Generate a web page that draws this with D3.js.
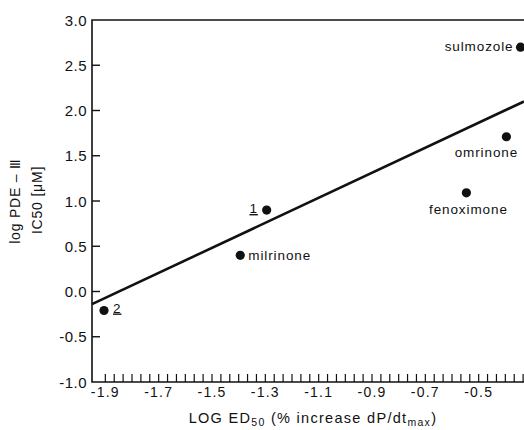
<!DOCTYPE html>
<html>
<head>
<meta charset="utf-8">
<script src="https://cdn.jsdelivr.net/npm/d3@7"></script>
<style>
  html, body { margin: 0; padding: 0; background: #fff; }
  svg text { font-family: "Liberation Sans", Arial, sans-serif; fill: #111; }
</style>
</head>
<body>
<svg id="chart" width="524" height="430"></svg>
<script>
// values
const compounds = ["2", "milrinone", "1", "fenoximone", "omrinone", "sulmozole"];
const logED50 = [-1.905, -1.394, -1.295, -0.546, -0.396, -0.343];
const logIC50 = [-0.21, 0.40, 0.90, 1.09, 1.71, 2.70];
const fitX = [-1.95, -0.33];
const fitY = [-0.14, 2.10];
const xTickValues = [-1.9, -1.7, -1.5, -1.3, -1.1, -0.9, -0.7, -0.5];
const yTickValues = [-1.0, -0.5, 0.0, 0.5, 1.0, 1.5, 2.0, 2.5, 3.0];

// label placement relative to each dot (layout only)
const labelPos = {
  "2":          { dx: 9,   dy: 2,  anchor: "start",  under: true },
  "milrinone":  { dx: 8,   dy: 5,  anchor: "start" },
  "1":          { dx: -13, dy: 3,  anchor: "middle", under: true },
  "fenoximone": { dx: 2,   dy: 21, anchor: "middle" },
  "omrinone":   { dx: -20, dy: 20, anchor: "middle" },
  "sulmozole":  { dx: -7,  dy: 4,  anchor: "end" }
};

const svg = d3.select("#chart");
const plotL = 92, plotT = 20, plotB = 382, plotR = 524;

const x = d3.scaleLinear().domain([-1.95, -0.33]).range([plotL, plotR]);
const y = d3.scaleLinear().domain([-1, 3]).range([plotB, plotT]);
const fmt = d => d3.format(".1f")(d).replace("\u2212", "-");

// frame: left axis, bottom axis, top border
svg.append("path")
  .attr("d", `M${plotR},${plotT}H${plotL}V${plotB}H${plotR}`)
  .attr("fill", "none").attr("stroke", "#111").attr("stroke-width", 1.6);

// y axis ticks (inside) and labels
const yInner = yTickValues.filter(v => v > -1 && v < 3);
svg.selectAll(".ytick").data(yInner).enter().append("line")
  .attr("x1", plotL).attr("x2", plotL + 8)
  .attr("y1", d => y(d)).attr("y2", d => y(d))
  .attr("stroke", "#111").attr("stroke-width", 1.4);
svg.selectAll(".ylab").data(yTickValues).enter().append("text")
  .attr("x", plotL - 5).attr("y", d => y(d) + 5.5)
  .attr("text-anchor", "end")
  .style("font-size", "15px").style("letter-spacing", "0.5px")
  .text(fmt);

// x axis: minor ticks every 1/6 of a labelled step
const minor = d3.range(-1.9, -0.33, 0.2 / 6);
svg.selectAll(".xtick").data(minor).enter().append("line")
  .attr("x1", d => x(d)).attr("x2", d => x(d))
  .attr("y1", plotB).attr("y2", plotB - 8)
  .attr("stroke", "#111").attr("stroke-width", 1.2);
svg.selectAll(".xlab").data(xTickValues).enter().append("text")
  .attr("x", d => x(d)).attr("y", plotB + 15)
  .attr("text-anchor", "middle")
  .style("font-size", "14px").style("letter-spacing", "1.2px")
  .text(fmt);

// x axis title with subscripts
const xt = svg.append("text")
  .attr("x", 313).attr("y", 423)
  .attr("text-anchor", "middle")
  .style("font-size", "14.5px").style("letter-spacing", "1.3px");
xt.append("tspan").text("LOG ED");
xt.append("tspan").attr("dy", 3).style("font-size", "10.5px").text("50");
xt.append("tspan").attr("dy", -3).text(" (% increase  dP/dt");
xt.append("tspan").attr("dy", 3).style("font-size", "10.5px").text("max");
xt.append("tspan").attr("dy", -3).text(")");

// y axis title, two rotated lines
svg.append("text")
  .attr("transform", "translate(20,201) rotate(-90)")
  .attr("text-anchor", "middle")
  .style("font-size", "14px").style("letter-spacing", "0.8px")
  .text("log PDE \u2013 \u2162");
svg.append("text")
  .attr("transform", "translate(42,200) rotate(-90)")
  .attr("text-anchor", "middle")
  .style("font-size", "14px").style("letter-spacing", "0.8px")
  .text("IC50 [\u03bcM]");

// regression line
svg.append("line")
  .attr("x1", x(fitX[0])).attr("y1", y(fitY[0]))
  .attr("x2", x(fitX[1])).attr("y2", y(fitY[1]))
  .attr("stroke", "#111").attr("stroke-width", 2.6);

// points and labels
const pts = compounds.map((c, i) => ({ name: c, ed: logED50[i], ic: logIC50[i] }));
svg.selectAll(".dot").data(pts).enter().append("circle")
  .attr("cx", d => x(d.ed)).attr("cy", d => y(d.ic))
  .attr("r", 4.6).attr("fill", "#111");
svg.selectAll(".plab").data(pts).enter().append("text")
  .attr("x", d => x(d.ed) + labelPos[d.name].dx)
  .attr("y", d => y(d.ic) + labelPos[d.name].dy)
  .attr("text-anchor", d => labelPos[d.name].anchor)
  .style("font-size", "13.5px").style("letter-spacing", "0.9px")
  .style("text-decoration", d => labelPos[d.name].under ? "underline" : "none")
  .text(d => d.name);
</script>
</body>
</html>
